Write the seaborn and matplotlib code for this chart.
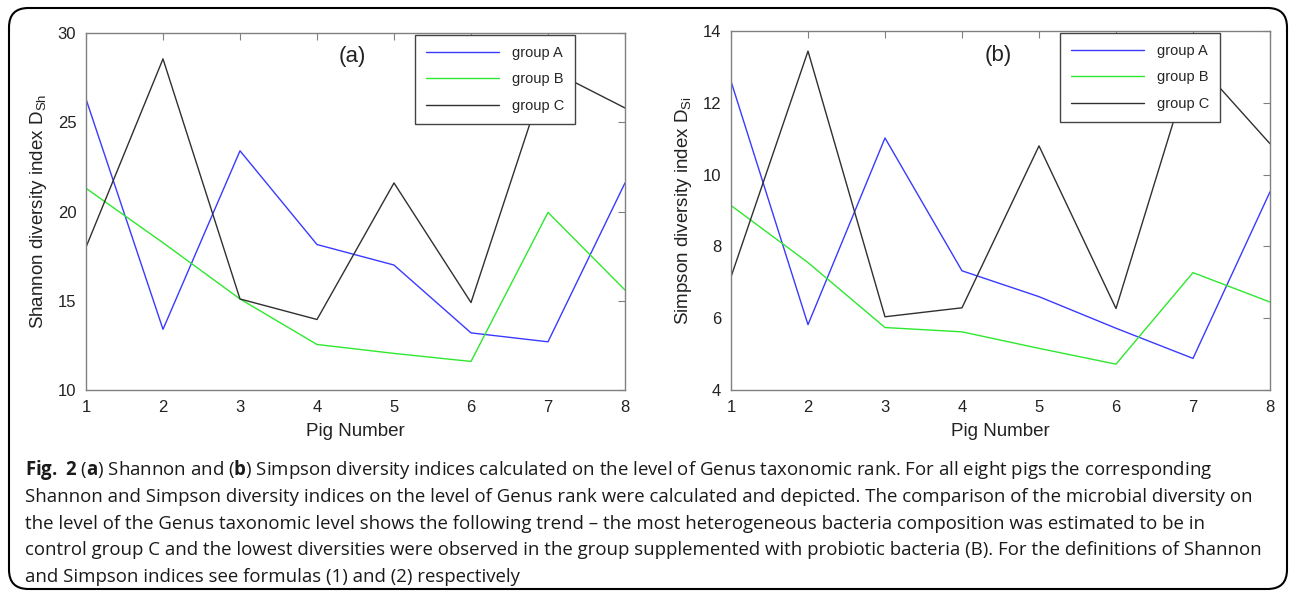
import numpy as np
import pandas as pd
import seaborn as sns
import matplotlib.pyplot as plt
from matplotlib.patches import FancyBboxPatch

# ======================= data =======================
pigs = [1, 2, 3, 4, 5, 6, 7, 8]
groups = ["group A", "group B", "group C"]

shannon_a = [26.3, 13.4, 23.4, 18.15, 17.0, 13.2, 12.7, 21.6]
shannon_b = [21.3, 18.25, 15.1, 12.55, 12.05, 11.6, 19.95, 15.6]
shannon_c = [18.0, 28.55, 15.1, 13.95, 21.6, 14.9, 28.0, 25.8]

simpson_a = [12.6, 5.82, 11.02, 7.32, 6.6, 5.72, 4.88, 9.52]
simpson_b = [9.14, 7.55, 5.74, 5.62, 5.16, 4.72, 7.27, 6.45]
simpson_c = [7.15, 13.44, 6.04, 6.29, 10.8, 6.27, 13.25, 10.86]

shannon_ticks = [10, 15, 20, 25, 30]
simpson_ticks = [4, 6, 8, 10, 12, 14]

caption_lines = [
    r"$\mathbf{Fig.}\;\mathbf{2}$ ($\mathbf{a}$) Shannon and ($\mathbf{b}$) Simpson diversity indices calculated on the level of Genus taxonomic rank. For all eight pigs the corresponding",
    "Shannon and Simpson diversity indices on the level of Genus rank were calculated and depicted. The comparison of the microbial diversity on",
    "the level of the Genus taxonomic level shows the following trend \u2013 the most heterogeneous bacteria composition was estimated to be in",
    "control group C and the lowest diversities were observed in the group supplemented with probiotic bacteria (B). For the definitions of Shannon",
    "and Simpson indices see formulas (1) and (2) respectively",
]

palette = {"group A": "#3a3aff", "group B": "#2ee82e", "group C": "#303030"}


def long_form(a, b, c):
    return pd.DataFrame({
        "pig": pigs * 3,
        "value": a + b + c,
        "group": [g for g in groups for _ in pigs],
    })


df_sh = long_form(shannon_a, shannon_b, shannon_c)
df_si = long_form(simpson_a, simpson_b, simpson_c)

# ======================= style =======================
sns.set_style("white")
plt.rcParams["font.family"] = ["Liberation Sans", "DejaVu Sans"]
plt.rcParams["mathtext.fontset"] = "custom"
plt.rcParams["mathtext.rm"] = "Liberation Sans"
plt.rcParams["mathtext.bf"] = "Open Sans:bold"

fig = plt.figure(figsize=(12.92, 5.97), dpi=100)
W, H = 1292, 597


def add_axes(left, top, right, bottom):
    return fig.add_axes([left / W, 1 - bottom / H, (right - left) / W, (bottom - top) / H])


ax_a = add_axes(86, 33, 625, 390)
ax_b = add_axes(731, 31, 1270, 390)

panels = [
    (ax_a, df_sh, shannon_ticks, "Shannon diversity index D$_{\\mathregular{Sh}}$", "(a)"),
    (ax_b, df_si, simpson_ticks, "Simpson diversity index D$_{\\mathregular{Si}}$", "(b)"),
]

for ax, df, yticks, ylabel, tag in panels:
    sns.lineplot(data=df, x="pig", y="value", hue="group", palette=palette,
                 linewidth=1.0, ax=ax)
    ax.set_xlim(pigs[0], pigs[-1])
    ax.set_ylim(yticks[0], yticks[-1])
    ax.set_xticks(pigs)
    ax.set_yticks(yticks)
    ax.set_xlabel("Pig Number", fontsize=13.5, color="#222222", labelpad=6)
    ax.set_ylabel(ylabel, fontsize=13.5, color="#222222", labelpad=6)
    ax.tick_params(direction="in", length=5, width=0.8, color="#808080",
                   labelsize=12, labelcolor="#222222", top=True, right=True, pad=7)
    for sp in ax.spines.values():
        sp.set_color("#808080")
        sp.set_linewidth(1.0)
    ax.text(0.495, 0.933, tag, transform=ax.transAxes, ha="center", va="center",
            fontsize=16, color="#222222")
    leg = ax.legend(loc="upper right", bbox_to_anchor=(0.907, 0.994), fontsize=10.5,
                    handlelength=5.0, labelspacing=0.85, borderpad=0.75,
                    handletextpad=0.9, borderaxespad=0, fancybox=False, framealpha=1.0)
    leg.get_frame().set_edgecolor("#444444")
    leg.get_frame().set_linewidth(1.0)

# ======================= caption and border =======================
for i, line in enumerate(caption_lines):
    fig.text(25 / W, 1 - (475 + i * 26.8) / H, line, ha="left", va="baseline",
             fontsize=13.4, family=["Open Sans", "DejaVu Sans"], color="#1a1a1a")

border = FancyBboxPatch((9 / W, 8 / H), (1287 - 9) / W, (589 - 8) / H,
                        boxstyle="round,pad=0,rounding_size=0.015",
                        transform=fig.transFigure, fill=False,
                        edgecolor="black", linewidth=1.5, mutation_aspect=W / H)
fig.patches.append(border)

fig.savefig("out.png", dpi=100)
